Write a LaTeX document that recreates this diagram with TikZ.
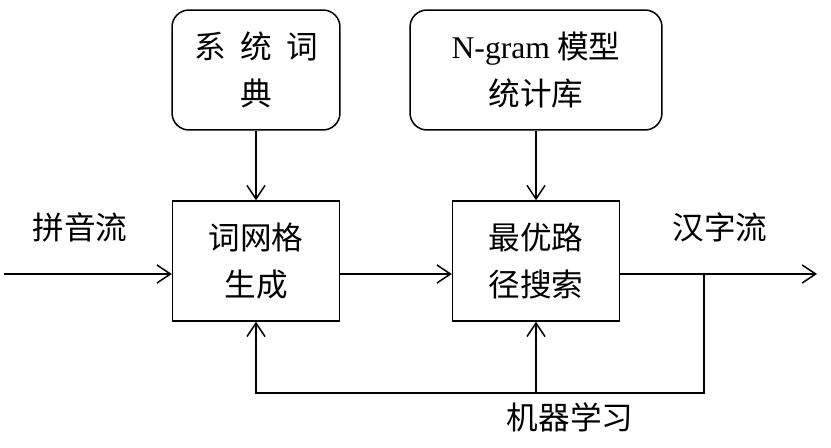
\documentclass[tikz,border=0pt]{standalone}
\usepackage{fontspec}
\setmainfont{Liberation Serif}
\newfontfamily\cjk{Noto Sans CJK SC}
\usetikzlibrary{arrows.meta}
\begin{document}
\begin{tikzpicture}[x=0.02cm,y=-0.02cm,line width=0.03cm,
  >={Straight Barb[length=0.27cm,width=0.36cm]},
  every node/.style={font=\cjk\fontsize{18}{27}\selectfont},
  store/.style={draw,rounded corners=0.34cm,minimum height=2.4cm,align=center,inner sep=0pt},
  proc/.style={draw,minimum width=3.34cm,minimum height=2.4cm,align=center,inner sep=0pt}]
\useasboundingbox (0,0) rectangle (831,448);
\node[store,minimum width=3.36cm] (dict) at (256,70) {系\hspace{0.45em}统\hspace{0.45em}词\\典};
\node[store,minimum width=5.04cm] (ngram) at (536,70) {{\rmfamily N-gram} 模型\\统计库};
\node[proc] (lattice) at (256,261) {词网格\\生成};
\node[proc] (search) at (536,261) {最优路\\径搜索};
\node (pinyin) at (80,227) {拼音流};
\node (hanzi) at (720,227) {汉字流};
\node (learn) at (570,417) {机器学习};
\coordinate (in) at (4,274);
\coordinate (out) at (817,274);
\coordinate (tap) at (704,274);
\coordinate (loop) at (704,393);
\draw[->] (dict) -- (lattice);
\draw[->] (ngram) -- (search);
\draw[->] (in) -- (in -| lattice.west);
\draw[->] (lattice.east |- in) -- (search.west |- in);
\draw[->] (search.east |- in) -- (out);
\draw[->] (tap) -- (loop) -| (lattice.south);
\draw[->] (search.south |- loop) -- (search);
\end{tikzpicture}
\end{document}
